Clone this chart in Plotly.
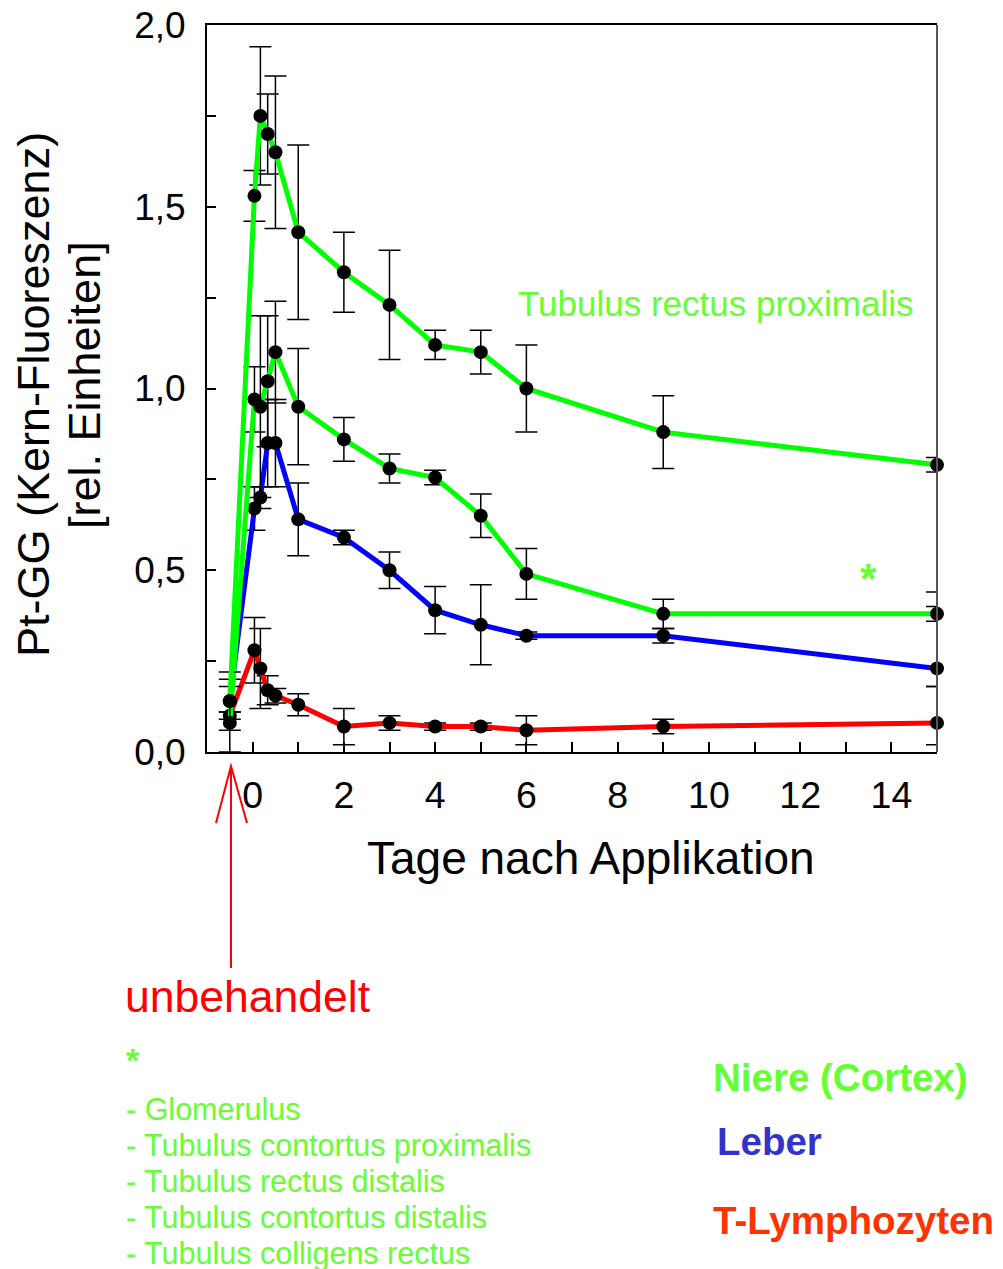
import plotly.graph_objects as go

# ---------------- data ----------------
days = [-0.5, 0.04, 0.17, 0.33, 0.5, 1, 2, 3, 4, 5, 6, 9, 15]

tubulus_rectus_prox = [0.14, 1.53, 1.75, 1.70, 1.65, 1.43, 1.32, 1.23, 1.12, 1.10, 1.00, 0.88, 0.79]
tubulus_rectus_prox_err = [0.08, 0.07, 0.19, 0.11, 0.21, 0.24, 0.11, 0.15, 0.04, 0.06, 0.12, 0.10, 0.02]

niere_cortex = [0.08, 0.97, 0.95, 1.02, 1.10, 0.95, 0.86, 0.78, 0.755, 0.65, 0.49, 0.38, 0.38]
niere_cortex_err_plus = [0.10, 0.09, 0.25, 0.18, 0.14, 0.16, 0.06, 0.04, 0.02, 0.06, 0.07, 0.04, 0.06]
niere_cortex_err_minus = [0.08, 0.09, 0.25, 0.18, 0.14, 0.16, 0.06, 0.04, 0.02, 0.06, 0.07, 0.04, 0.02]

leber = [0.14, 0.67, 0.70, 0.85, 0.85, 0.64, 0.59, 0.50, 0.39, 0.35, 0.32, 0.32, 0.23]
leber_err_plus = [0.06, 0.06, 0.03, 0.12, 0.12, 0.10, 0.02, 0.05, 0.065, 0.11, 0.01, 0.02, 0.17]
leber_err_minus = [0.03, 0.06, 0.03, 0.12, 0.12, 0.10, 0.02, 0.05, 0.065, 0.11, 0.01, 0.02, 0.05]

t_lymph = [0.10, 0.28, 0.23, 0.17, 0.155, 0.13, 0.07, 0.08, 0.07, 0.07, 0.06, 0.07, 0.08]
t_lymph_err_plus = [0.01, 0.09, 0.11, 0.04, 0.02, 0.03, 0.05, 0.02, 0.01, 0.01, 0.04, 0.02, 0.10]
t_lymph_err_minus = [0.01, 0.09, 0.11, 0.04, 0.02, 0.03, 0.05, 0.02, 0.01, 0.01, 0.04, 0.02, 0.06]

x_tickvals = [0, 2, 4, 6, 8, 10, 12, 14]
y_tickvals = [0, 0.5, 1.0, 1.5, 2.0]
y_ticktext = ["0,0", "0,5", "1,0", "1,5", "2,0"]

# ---------------- layout helpers ----------------
W, H = 1003, 1269
L, R, T, B = 207, 937, 25, 752
FONT = "Arial, Liberation Sans, sans-serif"


def px(x):
    return (x - L) / (R - L)


def py(y):
    return (B - y) / (B - T)


fig = go.Figure()


def add_series(y, eplus, eminus, color):
    fig.add_trace(go.Scatter(
        x=days, y=y, mode="lines+markers",
        line=dict(color=color, width=5),
        marker=dict(color="black", size=14),
        error_y=dict(type="data", symmetric=False, array=eplus, arrayminus=eminus,
                     color="black", thickness=1.5, width=11),
        cliponaxis=False, showlegend=False,
    ))


add_series(t_lymph, t_lymph_err_plus, t_lymph_err_minus, "#ff0000")
add_series(leber, leber_err_plus, leber_err_minus, "#0000ff")
add_series(niere_cortex, niere_cortex_err_plus, niere_cortex_err_minus, "#00ff00")
add_series(tubulus_rectus_prox, tubulus_rectus_prox_err, tubulus_rectus_prox_err, "#00ff00")

green_txt = "#66ff33"
anns = []
# axis titles
anns.append(dict(text="Pt-GG (Kern-Fluoreszenz)", x=px(34), y=py(395), textangle=-90,
                 font=dict(size=45, color="black", family=FONT)))
anns.append(dict(text="[rel. Einheiten]", x=px(84), y=py(385), textangle=-90,
                 font=dict(size=45, color="black", family=FONT)))
anns.append(dict(text="Tage nach Applikation", x=px(591), y=py(858),
                 font=dict(size=46, color="black", family=FONT)))
# in-plot labels
anns.append(dict(text="Tubulus rectus proximalis", x=px(516), y=py(303), xanchor="left",
                 font=dict(size=35, color=green_txt, family=FONT)))
anns.append(dict(text="<b>*</b>", x=px(868), y=py(578),
                 font=dict(size=42, color=green_txt, family=FONT)))
# untreated label
anns.append(dict(text="unbehandelt", x=px(123), y=py(997), xanchor="left",
                 font=dict(size=44.5, color="#ff0000", family=FONT)))
# footnote
anns.append(dict(text="<b>*</b>", x=px(124), y=py(1060), xanchor="left",
                 font=dict(size=34, color=green_txt, family=FONT)))
foot = ["- Glomerulus", "- Tubulus contortus proximalis", "- Tubulus rectus distalis",
        "- Tubulus contortus distalis", "- Tubulus colligens rectus"]
for i, t in enumerate(foot):
    anns.append(dict(text=t, x=px(124), y=py(1109 + i * 36.0), xanchor="left",
                     font=dict(size=30.5, color=green_txt, family=FONT)))
# legend-like labels
anns.append(dict(text="<b>Niere (Cortex)</b>", x=px(711), y=py(1077), xanchor="left",
                 font=dict(size=38.5, color=green_txt, family=FONT)))
anns.append(dict(text="<b>Leber</b>", x=px(715), y=py(1141), xanchor="left",
                 font=dict(size=38.5, color="#3333cc", family=FONT)))
anns.append(dict(text="<b>T-Lymphozyten</b>", x=px(711), y=py(1220), xanchor="left",
                 font=dict(size=38.5, color="#ff3300", family=FONT)))
for a in anns:
    a.setdefault("xanchor", "center")
    a.update(xref="paper", yref="paper", yanchor="middle", showarrow=False)

shapes = [
    # right frame line (grey)
    dict(type="line", xref="paper", yref="paper", x0=1, x1=1, y0=0, y1=1,
         line=dict(color="#555555", width=2)),
    # arrow for untreated
    dict(type="path", xref="paper", yref="paper",
         path=f"M {px(231)} {py(968)} L {px(231)} {py(766)} "
              f"M {px(216)} {py(823)} L {px(231)} {py(766)} L {px(247)} {py(823)}",
         line=dict(color="#ff0000", width=2)),
]

fig.update_layout(
    width=W, height=H,
    margin=dict(l=L, r=W - R, t=T, b=H - B, pad=0, autoexpand=False),
    paper_bgcolor="white", plot_bgcolor="white",
    font=dict(family=FONT, color="black"),
    annotations=anns, shapes=shapes,
    xaxis=dict(
        range=[-1, 15], tickvals=x_tickvals, ticks="inside", ticklen=10, tickwidth=1.5,
        tickcolor="black", showgrid=False, zeroline=False, showline=True, linecolor="black",
        linewidth=2, mirror=True, automargin=False, ticklabelstandoff=9,
        tickfont=dict(size=37.5, color="black", family=FONT),
        minor=dict(dtick=1, tick0=0, ticks="inside", ticklen=10, tickwidth=1.5, tickcolor="black",
                   showgrid=False),
    ),
    yaxis=dict(
        range=[0, 2], tickvals=y_tickvals, ticktext=y_ticktext, ticks="inside", ticklen=9,
        tickwidth=1.5, tickcolor="black", showgrid=False, zeroline=False, showline=True,
        linecolor="black", linewidth=2, automargin=False,
        tickfont=dict(size=37, color="black", family=FONT),
        minor=dict(dtick=0.25, tick0=0, ticks="inside", ticklen=9, tickwidth=1.5,
                   tickcolor="black", showgrid=False),
        ticklabelstandoff=12,
    ),
)

fig.write_html("out.html")
